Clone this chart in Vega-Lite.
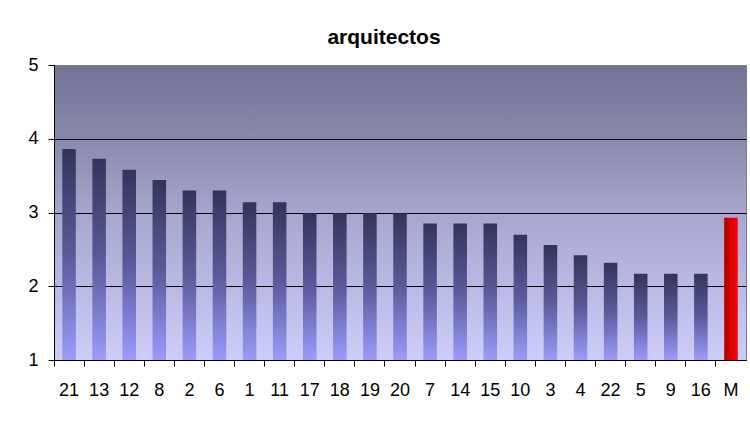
{
  "$schema": "https://vega.github.io/schema/vega-lite/v6.json",
  "width": 692,
  "height": 295,
  "autosize": {"type": "none"},
  "padding": {"left": 54, "top": 65, "right": 4, "bottom": 65},
  "background": "white",
  "title": {
    "text": "arquitectos",
    "font": "Liberation Sans",
    "fontSize": 21,
    "fontWeight": "bold",
    "color": "black",
    "anchor": "middle",
    "frame": "group",
    "baseline": "alphabetic",
    "offset": 16,
    "dx": -16,
    "dy": 25
  },
  "config": {
    "view": {
      "stroke": "#808080",
      "strokeWidth": 1,
      "fill": {
        "gradient": "linear",
        "x1": 0, "y1": 0, "x2": 0, "y2": 1,
        "stops": [
          {"offset": 0, "color": "#717294"},
          {"offset": 0.25, "color": "#8a8aab"},
          {"offset": 0.5, "color": "#a6a6cd"},
          {"offset": 1, "color": "#cdcdfb"}
        ]
      }
    },
    "axis": {
      "labelFont": "Liberation Sans",
      "labelFontSize": 18,
      "labelColor": "black",
      "domainColor": "black",
      "tickColor": "black",
      "tickSize": 6
    }
  },
  "data": {
    "values": [
      {"k": "21", "v": 3.86},
      {"k": "13", "v": 3.73},
      {"k": "12", "v": 3.58},
      {"k": "8", "v": 3.44},
      {"k": "2", "v": 3.3},
      {"k": "6", "v": 3.3},
      {"k": "1", "v": 3.14},
      {"k": "11", "v": 3.14},
      {"k": "17", "v": 2.99},
      {"k": "18", "v": 2.99},
      {"k": "19", "v": 2.99},
      {"k": "20", "v": 2.99},
      {"k": "7", "v": 2.85},
      {"k": "14", "v": 2.85},
      {"k": "15", "v": 2.85},
      {"k": "10", "v": 2.7},
      {"k": "3", "v": 2.56},
      {"k": "4", "v": 2.42},
      {"k": "22", "v": 2.32},
      {"k": "5", "v": 2.17},
      {"k": "9", "v": 2.17},
      {"k": "16", "v": 2.17},
      {"k": "M", "v": 2.93}
    ]
  },
  "encoding": {
    "x": {
      "field": "k",
      "type": "nominal",
      "sort": null,
      "scale": {"paddingInner": 0, "paddingOuter": 0},
      "axis": {
        "title": null,
        "labelAngle": 0,
        "labelPadding": 15,
        "bandPosition": 0,
        "grid": false,
        "domainWidth": 1
      }
    },
    "y": {
      "field": "v",
      "type": "quantitative",
      "scale": {"domain": [1, 5], "zero": false, "nice": false},
      "axis": {
        "title": null,
        "values": [1, 2, 3, 4, 5],
        "labelPadding": 10,
        "grid": true,
        "gridColor": {"condition": {"test": "datum.value == 5", "value": "#808080"}, "value": "black"},
        "gridWidth": 1,
        "gridOpacity": 1
      }
    },
    "y2": {"datum": 1}
  },
  "layer": [
    {
      "transform": [{"filter": "datum.k != 'M'"}],
      "mark": {
        "type": "bar",
        "width": {"band": 0.45},
        "fill": {
          "gradient": "linear",
          "x1": 0, "y1": 0, "x2": 0, "y2": 1,
          "stops": [
            {"offset": 0, "color": "#33345a"},
            {"offset": 0.5, "color": "#5a5a9a"},
            {"offset": 1, "color": "#9b9bfd"}
          ]
        }
      }
    },
    {
      "transform": [{"filter": "datum.k == 'M'"}],
      "mark": {
        "type": "bar",
        "width": {"band": 0.45},
        "fill": {
          "gradient": "linear",
          "x1": 0, "y1": 0, "x2": 1, "y2": 0,
          "stops": [
            {"offset": 0, "color": "#b00000"},
            {"offset": 1, "color": "#ff0000"}
          ]
        }
      }
    }
  ]
}
